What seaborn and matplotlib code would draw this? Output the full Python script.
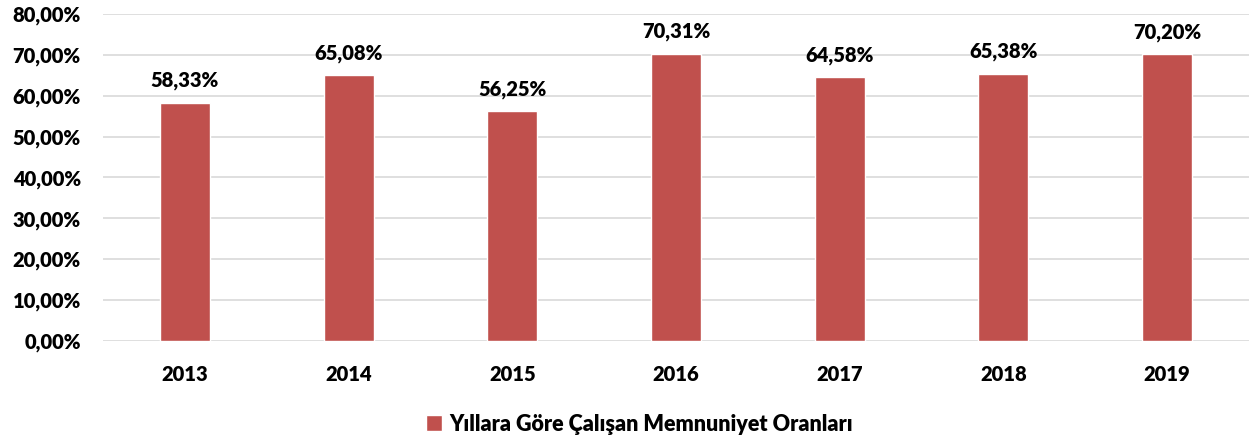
import matplotlib
matplotlib.use("Agg")
import matplotlib.pyplot as plt
import seaborn as sns
import pandas as pd

years = ["2013", "2014", "2015", "2016", "2017", "2018", "2019"]
rates = [58.33, 65.08, 56.25, 70.31, 64.58, 65.38, 70.20]
series_name = "Yıllara Göre Çalışan Memnuniyet Oranları"
y_ticks = [0, 10, 20, 30, 40, 50, 60, 70, 80]

df = pd.DataFrame({"Yıl": years, "Oran": rates})

sns.set_style("white")
plt.rcParams["font.family"] = ["Lato", "DejaVu Sans"]
plt.rcParams["font.weight"] = "heavy"
plt.rcParams["text.color"] = "black"
plt.rcParams["xtick.color"] = "black"
plt.rcParams["ytick.color"] = "black"

fig = plt.figure(figsize=(12.5, 4.41), dpi=100)
ax = fig.add_axes([0.0824, 0.2268, 0.9168, 0.7415])

sns.barplot(data=df, x="Yıl", y="Oran", color="#C0504D", width=0.305,
            saturation=1, label=series_name, ax=ax, zorder=3)

def fmt(v):
    return f"{v:.2f}".replace(".", ",") + "%"

fs = 14.5
for i, v in enumerate(rates):
    ax.text(i, v + 3.0, fmt(v), ha="center", va="bottom", fontsize=fs, fontweight="heavy")

ax.set_ylim(0, 80)
ax.set_yticks(y_ticks)
ax.set_yticklabels([fmt(t) for t in y_ticks], fontsize=fs, fontweight="heavy")
ax.tick_params(axis="x", labelsize=fs, pad=17, length=0)
ax.tick_params(axis="y", length=0, pad=16)
for lbl in ax.get_xticklabels():
    lbl.set_fontweight("heavy")
ax.set_xlabel("")
ax.set_ylabel("")
ax.yaxis.grid(True, color="#D9D9D9", linewidth=1.2, zorder=0)
ax.set_axisbelow(True)
for s in ax.spines.values():
    s.set_visible(False)

ax.legend(loc="center", bbox_to_anchor=(0.468, -0.254), frameon=False,
          prop={"size": 15.5, "weight": "heavy"}, handlelength=0.75, handleheight=0.75,
          handletextpad=0.3)

fig.savefig("out.png", dpi=100)
